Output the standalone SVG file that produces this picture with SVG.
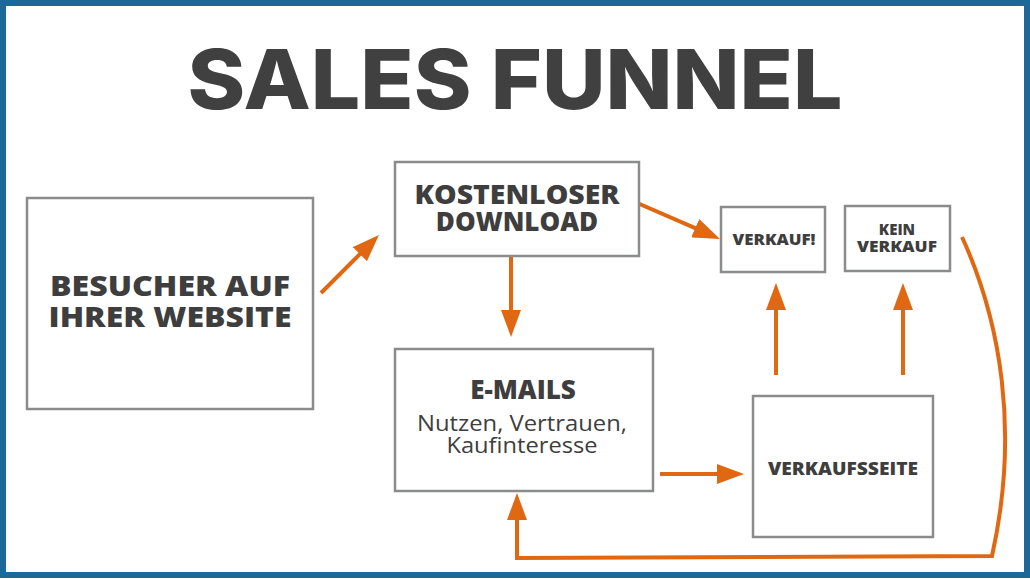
<svg xmlns="http://www.w3.org/2000/svg" width="1030" height="579" viewBox="0 0 1030 579">
<style>
.box{fill:#ffffff;stroke:#8a8c8c;stroke-width:2.5}
.t{font-family:"Open Sans","Liberation Sans",sans-serif;font-weight:800;fill:#3e3e3e;text-anchor:middle}
.r{font-family:"Open Sans","Liberation Sans",sans-serif;font-weight:400;fill:#3e3e3e;text-anchor:middle}
.c{fill:none;stroke:#e06812;stroke-width:4}
</style>
<defs>
<marker id="ah" viewBox="0 0 27 20" markerWidth="27" markerHeight="20" refX="5" refY="10" orient="auto" markerUnits="userSpaceOnUse">
<path d="M0,0 L27,10 L0,20 z" fill="#e06812"/>
</marker>
</defs>
<rect x="0" y="0" width="1030" height="579" fill="#ffffff"/>
<rect x="3" y="3" width="1024" height="572" fill="none" stroke="#1c6898" stroke-width="6"/>
<text x="515" y="109" font-family="Inter,'Liberation Sans',sans-serif" font-weight="800" font-size="83" fill="#404040" text-anchor="middle" textLength="655" lengthAdjust="spacingAndGlyphs">SALES FUNNEL</text>

<g id="connectors">
<line class="c" x1="321" y1="293" x2="363.4" y2="250.6" marker-end="url(#ah)"/>
<line class="c" x1="635" y1="202" x2="699.8" y2="230.2" marker-end="url(#ah)"/>
<line class="c" x1="511" y1="256" x2="511" y2="315" marker-end="url(#ah)"/>
<line class="c" x1="660" y1="474" x2="722" y2="474" marker-end="url(#ah)"/>
<line class="c" x1="776" y1="375" x2="776" y2="305" marker-end="url(#ah)"/>
<line class="c" x1="903" y1="375" x2="903" y2="305" marker-end="url(#ah)"/>
<path class="c" d="M962,237 C1000,320 1020,430 992,556 L517,558 L517,515" marker-end="url(#ah)"/>
</g>

<g id="besucher">
<rect class="box" x="27" y="198" width="286" height="211"/>
<text class="t" x="170" y="296" font-size="29" textLength="240" lengthAdjust="spacingAndGlyphs">BESUCHER AUF</text>
<text class="t" x="170" y="327" font-size="29" textLength="243" lengthAdjust="spacingAndGlyphs">IHRER WEBSITE</text>
</g>
<g id="download">
<rect class="box" x="395" y="162" width="244" height="94"/>
<text class="t" x="517" y="204" font-size="26" textLength="205" lengthAdjust="spacingAndGlyphs">KOSTENLOSER</text>
<text class="t" x="517" y="231" font-size="26">DOWNLOAD</text>
</g>
<g id="verkauf">
<rect class="box" x="721" y="207" width="104" height="65"/>
<text class="t" x="774" y="245" font-size="16" textLength="83" lengthAdjust="spacingAndGlyphs">VERKAUF!</text>
</g>
<g id="keinverkauf">
<rect class="box" x="845" y="206" width="105" height="65"/>
<text class="t" x="897" y="235" font-size="15">KEIN</text>
<text class="t" x="897" y="252" font-size="15" textLength="80" lengthAdjust="spacingAndGlyphs">VERKAUF</text>
</g>
<g id="emails">
<rect class="box" x="395" y="349" width="258" height="142"/>
<text class="t" x="523" y="399" font-size="26">E-MAILS</text>
<text class="r" x="522" y="431" font-size="22" textLength="210" lengthAdjust="spacingAndGlyphs">Nutzen, Vertrauen,</text>
<text class="r" x="522" y="453" font-size="22" textLength="151" lengthAdjust="spacingAndGlyphs">Kaufinteresse</text>
</g>
<g id="verkaufsseite">
<rect class="box" x="753" y="396" width="180" height="141"/>
<text class="t" x="843" y="475" font-size="18" textLength="150" lengthAdjust="spacingAndGlyphs">VERKAUFSSEITE</text>
</g>
</svg>
